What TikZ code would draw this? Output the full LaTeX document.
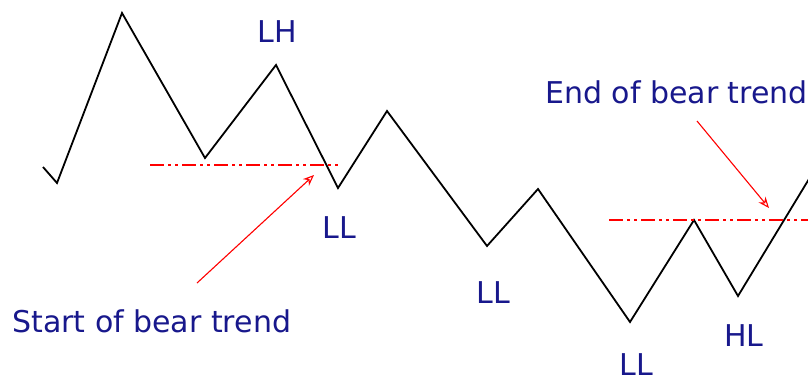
\documentclass[tikz,border=0pt]{standalone}
\usepackage{fontspec}
\usepackage{tikz}
\usetikzlibrary{arrows.meta,positioning}
\usepackage{xcolor}
\newfontfamily\chartfont{DejaVu Sans}
\definecolor{labelblue}{RGB}{24,24,140}

\begin{document}
\begin{tikzpicture}[x=1pt, y=-1pt,
  price/.style={draw=black, line width=1.8pt, line join=miter},
  level/.style={draw=red, line width=1.8pt,
    dash pattern=on 14pt off 4pt on 3pt off 4pt on 3pt off 4pt},
  pointer/.style={-{Stealth[open, length=11pt, width=9pt]}, draw=red, line width=1.1pt},
  swing/.style={inner sep=0pt, anchor=base, text=labelblue,
    font=\chartfont\fontsize{30}{30}\selectfont},
  remark/.style={inner sep=0pt, anchor=base west, text=labelblue,
    font=\chartfont\fontsize{30}{30}\selectfont}
]
\useasboundingbox (0,0) rectangle (808,381);
\clip (0,0) rectangle (808,381);
% swing points of the price line
\coordinate (p0)  at (43,167);
\coordinate (p1)  at (57,183);
\coordinate (p2)  at (122,13);
\coordinate (p3)  at (205,158);
\coordinate (p4)  at (276,65);
\coordinate (p5)  at (338,188);
\coordinate (p6)  at (387,111);
\coordinate (p7)  at (487,246);
\coordinate (p8)  at (538,189);
\coordinate (p9)  at (630,322);
\coordinate (p10) at (694,220);
\coordinate (p11) at (738,296);
\coordinate (p12) at (812,174);
\draw[price] (p0) -- (p1) -- (p2) -- (p3) -- (p4) -- (p5) -- (p6)
  -- (p7) -- (p8) -- (p9) -- (p10) -- (p11) -- (p12);
% break levels
\coordinate (l1a) at (150,165);
\coordinate (l1b) at (340,165);
\coordinate (l2a) at (609,220);
\coordinate (l2b) at (810,220);
\draw[level] (l1a) -- (l1b);
\draw[level] (l2a) -- (l2b);
% labels
\node[swing] (lh)  at (277,42)  {LH};
\node[swing] (ll1) at (339,238) {LL};
\node[swing] (ll2) at (493,303) {LL};
\node[swing] (ll3) at (636,375) {LL};
\node[swing] (hl)  at (744,346) {HL};
\node[remark] (start) at (12,332) {Start of bear trend};
\node[remark] (end)   at (545,103) {End of bear trend};
% pointers
\coordinate (a1s) at (197,283);
\coordinate (a1e) at (314,175);
\coordinate (a2s) at (697,121);
\coordinate (a2e) at (769,208);
\draw[pointer] (a1s) -- (a1e);
\draw[pointer] (a2s) -- (a2e);
\end{tikzpicture}
\end{document}
